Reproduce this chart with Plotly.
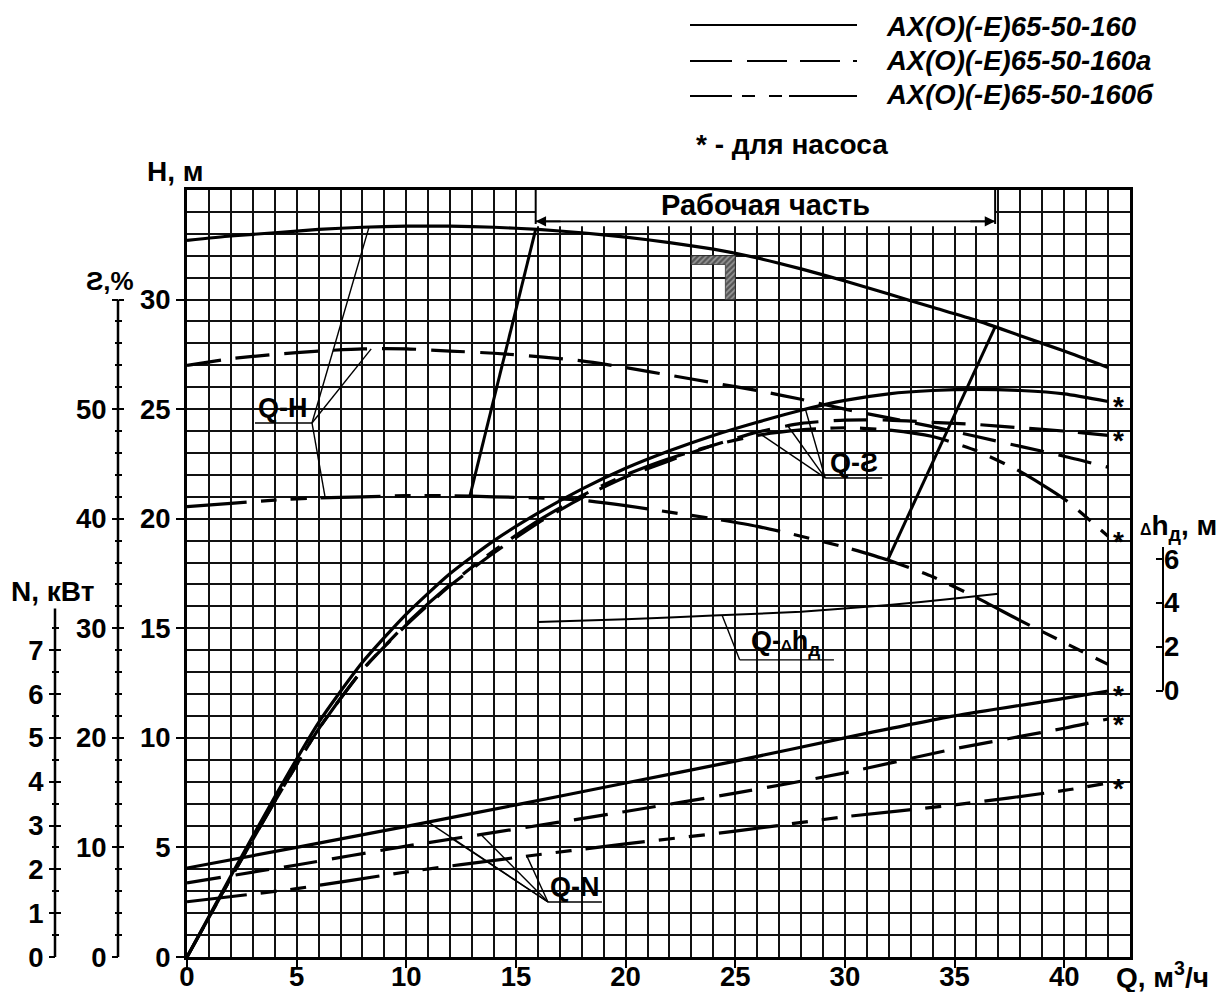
import numpy as np
import plotly.graph_objects as go

# ---------------- data ----------------
Q_CURVE = [0, 2, 4, 6, 8, 10, 12, 14, 16, 18, 20, 22, 24, 26, 28, 30, 32, 34, 36, 38, 40, 42]

HEAD_160 = [32.7, 32.9, 33.05, 33.2, 33.3, 33.35, 33.35, 33.3, 33.2, 33.05, 32.85, 32.6,
            32.3, 31.9, 31.4, 30.85, 30.25, 29.65, 29.05, 28.35, 27.65, 26.9]
HEAD_160A = [27.0, 27.3, 27.5, 27.65, 27.75, 27.75, 27.65, 27.55, 27.4, 27.2, 26.9, 26.55,
             26.2, 25.85, 25.45, 25.0, 24.6, 24.2, 23.75, 23.3, 22.85, 22.35]
HEAD_160B = [20.55, 20.7, 20.85, 20.95, 21.0, 21.05, 21.05, 21.0, 20.95, 20.85, 20.6, 20.3,
             20.0, 19.65, 19.2, 18.7, 18.1, 17.35, 16.4, 15.35, 14.35, 13.35]

EFF_160 = [0, 7.4, 14.6, 21.4, 26.9, 31.3, 35.0, 38.0, 40.5, 42.7, 44.6, 46.2,
           47.6, 48.8, 49.9, 50.8, 51.4, 51.7, 51.8, 51.7, 51.4, 50.7]
EFF_160A = [0, 7.2, 14.2, 20.8, 26.2, 30.3, 33.9, 36.9, 39.6, 41.9, 43.8, 45.3,
            46.7, 47.9, 48.7, 49.0, 49.0, 48.8, 48.6, 48.3, 48.0, 47.6]
EFF_160B = [0, 7.2, 14.2, 20.8, 26.2, 30.4, 34.0, 37.1, 39.8, 42.1, 44.0, 45.5,
            46.7, 47.6, 48.1, 48.3, 48.1, 47.5, 46.2, 44.3, 41.8, 38.4]

Q_POWER = [0, 5, 10, 15, 20, 25, 30, 35, 40, 42]
POWER_160 = [2.03, 2.5, 2.98, 3.47, 3.97, 4.47, 5.0, 5.5, 5.9, 6.07]
POWER_160A = [1.69, 2.1, 2.53, 2.92, 3.32, 3.74, 4.2, 4.75, 5.22, 5.43]
POWER_160B = [1.26, 1.56, 1.94, 2.27, 2.58, 2.87, 3.2, 3.47, 3.8, 3.97]

Q_NPSH = [16, 20, 24, 28, 32, 35, 37]
NPSH = [3.13, 3.25, 3.42, 3.6, 3.9, 4.2, 4.42]

X_TICKS = [0, 5, 10, 15, 20, 25, 30, 35, 40]
H_TICKS = [0, 5, 10, 15, 20, 25, 30]
ETA_TICKS = [0, 10, 20, 30, 40, 50, 60]
ETA_LABELS = ["0", "10", "20", "30", "40", "50", ""]
N_TICKS = [0, 1, 2, 3, 4, 5, 6, 7]
DH_TICKS = [0, 2, 4, 6]

WORK_Q_160 = [15.9, 36.85]      # working range limits on the 160 curve
WORK_Q_160B = [12.9, 31.95]     # working range limits on the 160б curve
NOMINAL_Q, NOMINAL_H = 25, 32   # nominal point marker

LEGEND_NAMES = ["AX(O)(-E)65-50-160", "AX(O)(-E)65-50-160a", "AX(O)(-E)65-50-160б"]

# ---------------- layout constants ----------------
OFF = 8                                   # page body margin
W, HT = 1226 - OFF, 992 - OFF
XL, XR, YB, YT = 187, 1130, 957, 190      # plot area in page px
Q_MAX, H_MAX = 43, 35
ETA_PER_H = 2.0      # eta(%) = 2 * H
N_PER_H = 0.5        # N(kW) = H / 2
DH_OFFSET = 12.16    # dh = H - offset

FONT = "Liberation Sans, Arial, Helvetica, sans-serif"
BLACK = "#000000"
DASH_A = "34px,15px"
DASH_B = "60px,14px,16px,14px,16px,14px"


def paper(xp, yp):
    return (xp - OFF) / W, 1 - (yp - OFF) / HT


def interp(qs, vals, q):
    return float(np.interp(q, qs, vals))


fig = go.Figure()

styles = [("solid", 3.2), (DASH_A, 3.2), (DASH_B, 3.2)]

for vals, (dash, w) in zip([HEAD_160, HEAD_160A, HEAD_160B], styles):
    fig.add_trace(go.Scatter(x=Q_CURVE, y=vals, mode="lines", yaxis="y",
                             line=dict(color=BLACK, width=w, dash=dash, shape="spline", smoothing=0.6),
                             hoverinfo="skip", showlegend=False))
for vals, (dash, w) in zip([EFF_160, EFF_160A, EFF_160B], styles):
    fig.add_trace(go.Scatter(x=Q_CURVE, y=vals, mode="lines", yaxis="y2",
                             line=dict(color=BLACK, width=w, dash=dash, shape="spline", smoothing=0.6),
                             hoverinfo="skip", showlegend=False))
for vals, (dash, w) in zip([POWER_160, POWER_160A, POWER_160B], styles):
    fig.add_trace(go.Scatter(x=Q_POWER, y=vals, mode="lines", yaxis="y3",
                             line=dict(color=BLACK, width=w, dash=dash, shape="spline", smoothing=0.6),
                             hoverinfo="skip", showlegend=False))
fig.add_trace(go.Scatter(x=Q_NPSH, y=NPSH, mode="lines", yaxis="y4",
                         line=dict(color=BLACK, width=2, shape="spline", smoothing=0.6),
                         hoverinfo="skip", showlegend=False))

# working range boundaries
for q1, q2 in zip(WORK_Q_160, WORK_Q_160B):
    fig.add_trace(go.Scatter(x=[q1, q2], y=[interp(Q_CURVE, HEAD_160, q1), interp(Q_CURVE, HEAD_160B, q2)],
                             mode="lines", yaxis="y", line=dict(color=BLACK, width=3),
                             hoverinfo="skip", showlegend=False))

# nominal point hatched corner
Lq = [NOMINAL_Q - 2, NOMINAL_Q, NOMINAL_Q, NOMINAL_Q - 0.45, NOMINAL_Q - 0.45, NOMINAL_Q - 2, NOMINAL_Q - 2]
Lh = [NOMINAL_H, NOMINAL_H, NOMINAL_H - 2, NOMINAL_H - 2, NOMINAL_H - 0.4, NOMINAL_H - 0.4, NOMINAL_H]
fig.add_trace(go.Scatter(x=Lq, y=Lh, mode="lines", fill="toself", yaxis="y",
                         line=dict(color="#333", width=0.8), fillcolor="white",
                         fillpattern=dict(shape="/", fgcolor="#111", bgcolor="#999", size=4, solidity=0.6),
                         hoverinfo="skip", showlegend=False))

# dummy traces for the inner-tick twin axes
for ax in ["y5", "y6"]:
    fig.add_trace(go.Scatter(x=[0], y=[0], mode="markers", yaxis=ax, marker=dict(opacity=0),
                             hoverinfo="skip", showlegend=False))


def leader(origin, targets, underline_end):
    for t in targets:
        fig.add_trace(go.Scatter(x=[origin[0], t[0]], y=[origin[1], t[1]], mode="lines", yaxis="y",
                                 line=dict(color=BLACK, width=1.4), hoverinfo="skip", showlegend=False))
    fig.add_trace(go.Scatter(x=[origin[0], underline_end], y=[origin[1], origin[1]], mode="lines", yaxis="y",
                             line=dict(color=BLACK, width=1.4), hoverinfo="skip", showlegend=False))


leader((5.7, 24.37),
       [(8.3, interp(Q_CURVE, HEAD_160, 8.3)), (8.4, interp(Q_CURVE, HEAD_160A, 8.4)),
        (6.3, interp(Q_CURVE, HEAD_160B, 6.3))], 3.1)
leader((29.1, 21.86),
       [(28.2, interp(Q_CURVE, EFF_160, 28.2) / ETA_PER_H), (27.4, interp(Q_CURVE, EFF_160A, 27.4) / ETA_PER_H),
        (26.2, interp(Q_CURVE, EFF_160B, 26.2) / ETA_PER_H)], 31.7)
leader((16.46, 2.51),
       [(11.0, interp(Q_POWER, POWER_160, 11.0) / N_PER_H), (12.1, interp(Q_POWER, POWER_160A, 12.1) / N_PER_H),
        (13.4, interp(Q_POWER, POWER_160A, 13.4) / N_PER_H), (15.5, interp(Q_POWER, POWER_160B, 15.5) / N_PER_H)],
       18.92)
leader((25.2, 13.56), [(24.4, interp(Q_NPSH, NPSH, 24.4) + DH_OFFSET)], 29.5)

label_font = dict(family=FONT, size=27, color=BLACK, weight="bold")
for txt, q, h in [("Q-H", 4.4, 24.37), ("Q-Ƨ", 30.4, 21.86), ("Q-N", 17.7, 2.51),
                  ("Q-<span style='font-size:15px'>Δ</span>h<sub>д</sub>", 27.3, 13.56)]:
    fig.add_annotation(x=q, y=h, xref="x", yref="y", text=txt, showarrow=False,
                       yanchor="bottom", xanchor="center", yshift=-2, font=label_font)

star_font = dict(family=FONT, size=28, color=BLACK, weight="bold")
for vals in [EFF_160, EFF_160A, EFF_160B]:
    fig.add_annotation(x=Q_CURVE[-1], y=vals[-1], xref="x", yref="y2", text="*", showarrow=False,
                       xanchor="center", yanchor="middle", xshift=10, yshift=-5, font=star_font)
for vals in [POWER_160, POWER_160A, POWER_160B]:
    fig.add_annotation(x=Q_POWER[-1], y=vals[-1], xref="x", yref="y3", text="*", showarrow=False,
                       xanchor="center", yanchor="middle", xshift=10, yshift=-5, font=star_font)

# ---------------- working-part box with arrow ----------------
shapes = []
BOX_H0 = 33.35
ARROW_H = 33.57
shapes.append(dict(type="rect", xref="x", yref="y", x0=WORK_Q_160[0], x1=WORK_Q_160[1], y0=BOX_H0, y1=H_MAX,
                   fillcolor="white", line=dict(width=0), layer="between"))
for q in WORK_Q_160:
    shapes.append(dict(type="line", xref="x", yref="y", x0=q, x1=q, y0=BOX_H0 + 0.1, y1=H_MAX,
                       line=dict(color=BLACK, width=2)))
shapes.append(dict(type="line", xref="x", yref="y", x0=WORK_Q_160[0], x1=WORK_Q_160[1], y0=ARROW_H, y1=ARROW_H,
                   line=dict(color=BLACK, width=1.6)))
mid = (WORK_Q_160[0] + WORK_Q_160[1]) / 2
for end in WORK_Q_160:
    fig.add_annotation(x=end, y=ARROW_H, ax=end + (1.2 if end < mid else -1.2), ay=ARROW_H,
                       xref="x", yref="y", axref="x", ayref="y", text="", showarrow=True,
                       arrowhead=2, arrowsize=1.3, arrowwidth=1.6, arrowcolor=BLACK, standoff=0)
fig.add_annotation(x=mid, y=34.3, xref="x", yref="y", text="Рабочая часть", showarrow=False,
                   font=dict(family=FONT, size=29, color=BLACK, weight="bold"))

# ---------------- side axes lines ----------------
POS_ETA, POS_N, POS_DH = (118 - OFF) / W, (55 - OFF) / W, (1163 - OFF) / W
shapes.append(dict(type="line", xref="paper", yref="y2", x0=POS_ETA, x1=POS_ETA, y0=0, y1=60,
                   line=dict(color=BLACK, width=2.5)))
shapes.append(dict(type="line", xref="paper", yref="y3", x0=POS_N, x1=POS_N, y0=0, y1=7.95,
                   line=dict(color=BLACK, width=2.5)))
shapes.append(dict(type="line", xref="paper", yref="y4", x0=POS_DH, x1=POS_DH, y0=0, y1=6.55,
                   line=dict(color=BLACK, width=2)))

# ---------------- legend ----------------
for yp, dash in zip([25, 61, 96], ["solid", "42px,15px,40px,13px,40px,13px,8px,20px",
                                   "42px,10px,13px,14px,13px,7px,70px"]):
    x0, y0 = paper(690, yp)
    x1, _ = paper(857, yp)
    shapes.append(dict(type="line", xref="paper", yref="paper", x0=x0, x1=x1, y0=y0, y1=y0,
                       line=dict(color=BLACK, width=2.2, dash=dash)))
for yp, name in zip([27, 61, 94], LEGEND_NAMES):
    xa, ya = paper(884, yp)
    fig.add_annotation(x=xa, y=ya, xref="paper", yref="paper", text=name, showarrow=False,
                       xanchor="left", yanchor="middle",
                       font=dict(family=FONT, size=27.5, color=BLACK, weight="bold", style="italic"))
xa, ya = paper(694, 145)
fig.add_annotation(x=xa, y=ya, xref="paper", yref="paper", text="* - для насоса", showarrow=False,
                   xanchor="left", yanchor="middle",
                   font=dict(family=FONT, size=28, color=BLACK, weight="bold"))

# ---------------- axis titles ----------------
title_font = dict(family=FONT, size=28, color=BLACK, weight="bold")
for txt, (xp, yp), fs in [("H, м", (175, 172), 28), ("Ƨ,%", (110, 281), 26), ("N, кВт", (52, 591), 28),
                          ("<span style='font-size:16px'>Δ</span>h<sub>д</sub>, м", (1178, 527), 28),
                          ("Q, м<sup>3</sup>/ч", (1162, 975), 28)]:
    xa, ya = paper(xp, yp)
    fig.add_annotation(x=xa, y=ya, xref="paper", yref="paper", text=txt, showarrow=False,
                       xanchor="center", yanchor="middle", font=dict(title_font, size=fs))

# ---------------- axes ----------------
tickfont = dict(family=FONT, size=27.5, color=BLACK, weight="bold")
xdom = [(XL - OFF) / W, (XR - OFF) / W]
ydom = [1 - (YB - OFF) / HT, 1 - (YT - OFF) / HT]
grid = dict(showgrid=True, gridcolor="#111", gridwidth=1.9)
eta_minor = [v for v in range(2, 60, 2) if v % 10]
n_minor = [v + 0.5 for v in range(0, 8)]

fig.update_layout(
    width=W, height=HT, autosize=False,
    margin=dict(l=0, r=0, t=0, b=0),
    paper_bgcolor="white", plot_bgcolor="white",
    showlegend=False,
    shapes=shapes,
    xaxis=dict(domain=xdom, range=[0, Q_MAX], tickmode="array", tickvals=X_TICKS,
               ticks="outside", ticklen=8, tickwidth=2, tickcolor=BLACK, tickfont=tickfont,
               ticklabelstandoff=-15,
               showline=True, linewidth=3, linecolor=BLACK, mirror=True, zeroline=False,
               minor=dict(tickmode="linear", tick0=0, dtick=1, **grid), automargin=False, **grid),
    yaxis=dict(domain=ydom, range=[0, H_MAX], tickmode="array", tickvals=H_TICKS, anchor="x",
               ticks="outside", ticklen=8, tickwidth=2, tickcolor=BLACK, tickfont=tickfont,
               showline=True, linewidth=3, linecolor=BLACK, mirror=True, zeroline=False,
               minor=dict(tickmode="linear", tick0=0, dtick=1, **grid), automargin=False, **grid),
    yaxis2=dict(overlaying="y", anchor="free", position=POS_ETA, side="left",
                range=[0, H_MAX * ETA_PER_H], tickmode="array", tickvals=ETA_TICKS, ticktext=ETA_LABELS,
                ticks="outside", ticklen=6, tickwidth=2, tickcolor=BLACK, tickfont=tickfont,
                showgrid=False, zeroline=False, showline=False, automargin=False,
                minor=dict(tickmode="array", tickvals=eta_minor,
                           ticks="outside", ticklen=3, tickwidth=2, tickcolor=BLACK, showgrid=False)),
    yaxis5=dict(overlaying="y", anchor="free", position=POS_ETA, side="left",
                range=[0, H_MAX * ETA_PER_H], tickmode="array", tickvals=ETA_TICKS, showticklabels=False,
                ticks="inside", ticklen=5, tickwidth=2, tickcolor=BLACK,
                showgrid=False, zeroline=False, showline=False, automargin=False,
                minor=dict(tickmode="array", tickvals=eta_minor,
                           ticks="inside", ticklen=3, tickwidth=2, tickcolor=BLACK, showgrid=False)),
    yaxis3=dict(overlaying="y", anchor="free", position=POS_N, side="left",
                range=[0, H_MAX * N_PER_H], tickmode="array", tickvals=N_TICKS,
                ticks="outside", ticklen=6, tickwidth=2, tickcolor=BLACK, tickfont=tickfont,
                showgrid=False, zeroline=False, showline=False, automargin=False,
                minor=dict(tickmode="array", tickvals=n_minor,
                           ticks="outside", ticklen=3, tickwidth=2, tickcolor=BLACK, showgrid=False)),
    yaxis6=dict(overlaying="y", anchor="free", position=POS_N, side="left",
                range=[0, H_MAX * N_PER_H], tickmode="array", tickvals=N_TICKS, showticklabels=False,
                ticks="inside", ticklen=5, tickwidth=2, tickcolor=BLACK,
                showgrid=False, zeroline=False, showline=False, automargin=False,
                minor=dict(tickmode="array", tickvals=n_minor,
                           ticks="inside", ticklen=3, tickwidth=2, tickcolor=BLACK, showgrid=False)),
    yaxis4=dict(overlaying="y", anchor="free", position=POS_DH, side="right",
                range=[-DH_OFFSET, H_MAX - DH_OFFSET], tickmode="array", tickvals=DH_TICKS,
                ticks="inside", ticklen=7, tickwidth=2, tickcolor=BLACK, tickfont=tickfont,
                showgrid=False, zeroline=False, showline=False, automargin=False),
)

fig.write_html("out.html")
